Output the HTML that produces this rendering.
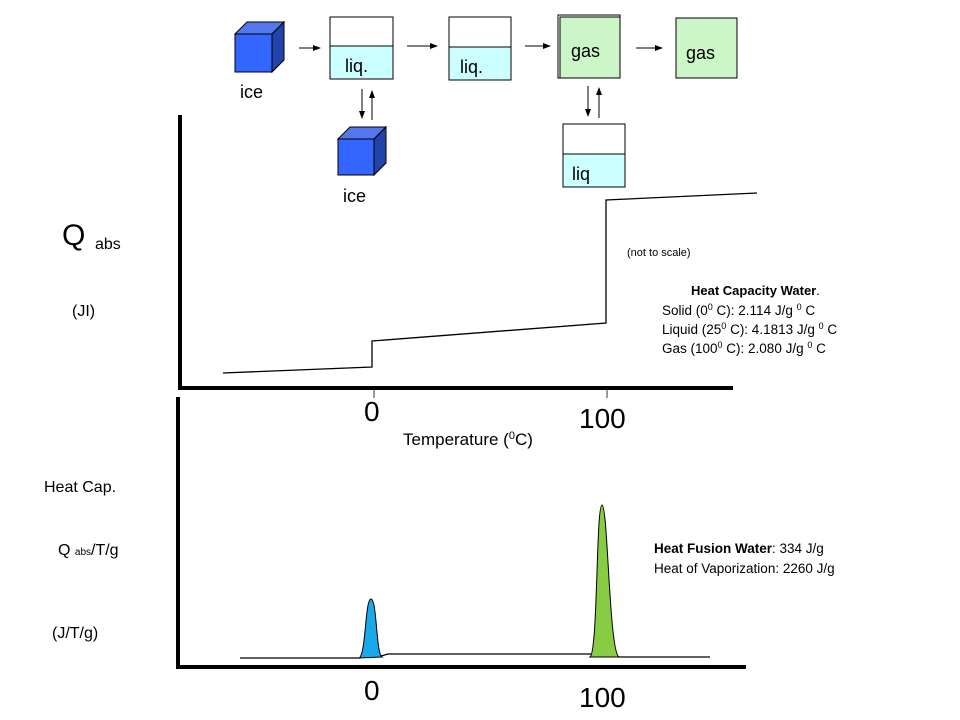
<!DOCTYPE html>
<html><head><meta charset="utf-8"><style>
html,body{margin:0;padding:0;background:#fff;}
svg{display:block;font-family:"Liberation Sans",Arial,sans-serif;}
</style></head><body>
<svg width="960" height="720" viewBox="0 0 960 720" xmlns="http://www.w3.org/2000/svg">
<defs>
<marker id="ah" markerWidth="8" markerHeight="6" refX="7" refY="3" orient="auto" markerUnits="userSpaceOnUse">
<path d="M0,0 L8,3 L0,6 z" fill="#000"/></marker>
</defs>
<polygon points="235,34 247,22 284,22 272,34" fill="#5577ee" stroke="#000"/>
<polygon points="272,34 284,22 284,60 272,72" fill="#2244aa" stroke="#000"/>
<rect x="235" y="34" width="37" height="38" fill="#3366ff" stroke="#000"/>
<text x="240" y="98" font-size="18">ice</text>
<line x1="299" y1="48" x2="320" y2="48" stroke="#000" marker-end="url(#ah)"/>
<rect x="330" y="17" width="63" height="62" fill="#fff" stroke="#000"/>
<rect x="330" y="46" width="63" height="33" fill="#ccffff" stroke="#000"/>
<text x="345" y="72" font-size="18">liq.</text>
<line x1="407" y1="46" x2="437" y2="46" stroke="#000" marker-end="url(#ah)"/>
<rect x="449" y="17" width="62" height="63" fill="#fff" stroke="#000"/>
<rect x="449" y="47" width="62" height="33" fill="#ccffff" stroke="#000"/>
<text x="460" y="73" font-size="18">liq.</text>
<line x1="525" y1="46" x2="550" y2="46" stroke="#000" marker-end="url(#ah)"/>
<rect x="558" y="15" width="62" height="63" fill="#fff" stroke="#000"/>
<rect x="560" y="17" width="60" height="61" fill="#ccf5c8" stroke="#000"/>
<text x="571" y="57" font-size="18">gas</text>
<line x1="636" y1="48" x2="662" y2="48" stroke="#000" marker-end="url(#ah)"/>
<rect x="676" y="18" width="61" height="60" fill="#ccf5c8" stroke="#000"/>
<text x="686" y="59" font-size="18">gas</text>
<line x1="362" y1="89" x2="362" y2="118" stroke="#000" marker-end="url(#ah)"/>
<line x1="372" y1="120" x2="372" y2="91" stroke="#000" marker-end="url(#ah)"/>
<polygon points="338,139 350,127 386,127 374,139" fill="#5577ee" stroke="#000"/>
<polygon points="374,139 386,127 386,163 374,175" fill="#2244aa" stroke="#000"/>
<rect x="338" y="139" width="36" height="36" fill="#3366ff" stroke="#000"/>
<text x="343" y="202" font-size="18">ice</text>
<line x1="588" y1="86" x2="588" y2="116" stroke="#000" marker-end="url(#ah)"/>
<line x1="599" y1="118" x2="599" y2="88" stroke="#000" marker-end="url(#ah)"/>
<rect x="563" y="124" width="62" height="63" fill="#fff" stroke="#000"/>
<rect x="563" y="154" width="62" height="33" fill="#ccffff" stroke="#000"/>
<text x="572" y="180" font-size="18">liq</text>
<line x1="180" y1="115" x2="180" y2="389" stroke="#000" stroke-width="4"/>
<line x1="178" y1="388" x2="733" y2="388" stroke="#000" stroke-width="4"/>
<line x1="374" y1="390" x2="374" y2="398" stroke="#000" stroke-width="0.8"/>
<line x1="607" y1="390" x2="607" y2="398" stroke="#000" stroke-width="0.8"/>
<polyline points="223,373 372,367 372,341 606,323 606,200 757,193" fill="none" stroke="#000" stroke-width="1.3"/>
<text x="62" y="245" font-size="30">Q</text>
<text x="95" y="249" font-size="16">abs</text>
<text x="72" y="316" font-size="16">(JI)</text>
<text x="627" y="256" font-size="11">(not to scale)</text>
<text x="691" y="295" font-size="13" font-weight="bold">Heat Capacity Water<tspan font-weight="normal">.</tspan></text>
<text x="662" y="315" font-size="13.5">Solid (0<tspan font-size="9" dy="-5">0</tspan><tspan dy="5"> C):  2.114 J/g </tspan><tspan font-size="9" dy="-5">0</tspan><tspan dy="5"> C</tspan></text>
<text x="662" y="334" font-size="13.5">Liquid (25<tspan font-size="9" dy="-5">0</tspan><tspan dy="5"> C):  4.1813 J/g </tspan><tspan font-size="9" dy="-5">0</tspan><tspan dy="5"> C</tspan></text>
<text x="662" y="353" font-size="13.5">Gas (100<tspan font-size="9" dy="-5">0</tspan><tspan dy="5"> C):  2.080 J/g </tspan><tspan font-size="9" dy="-5">0</tspan><tspan dy="5"> C</tspan></text>
<text x="364" y="421" font-size="28">0</text>
<text x="579" y="428" font-size="28">100</text>
<text x="403" y="445" font-size="17">Temperature (<tspan font-size="11" dy="-6">0</tspan><tspan dy="6">C)</tspan></text>
<line x1="178" y1="397" x2="178" y2="669" stroke="#000" stroke-width="4"/>
<line x1="176" y1="667" x2="746" y2="667" stroke="#000" stroke-width="4"/>
<path d="M359,658 C366,655 365,599 371,599 C377,599 376,654 382,657 Z" fill="#1aa8e8" stroke="#000"/>
<path d="M590,657 C598,652 596,505 602,505 C608,505 609,652 619,657 Z" fill="#88cc44" stroke="#000"/>
<polyline points="240,658 360,658" fill="none" stroke="#000" stroke-width="1.3"/>
<polyline points="381,656 388,654 591,654" fill="none" stroke="#000" stroke-width="1.3"/>
<polyline points="618,657 710,657" fill="none" stroke="#000" stroke-width="1.3"/>
<text x="44" y="492" font-size="16">Heat Cap.</text>
<text x="58" y="555" font-size="16">Q <tspan font-size="10">abs</tspan>/T/g</text>
<text x="52" y="638" font-size="16">(J/T/g)</text>
<text x="364" y="700" font-size="28">0</text>
<text x="579" y="707" font-size="28">100</text>
<text x="654" y="553" font-size="13.5"><tspan font-weight="bold">Heat Fusion Water</tspan>:  334 J/g</text>
<text x="654" y="573" font-size="13.5">Heat of Vaporization:  2260 J/g</text>
</svg>
</body></html>
